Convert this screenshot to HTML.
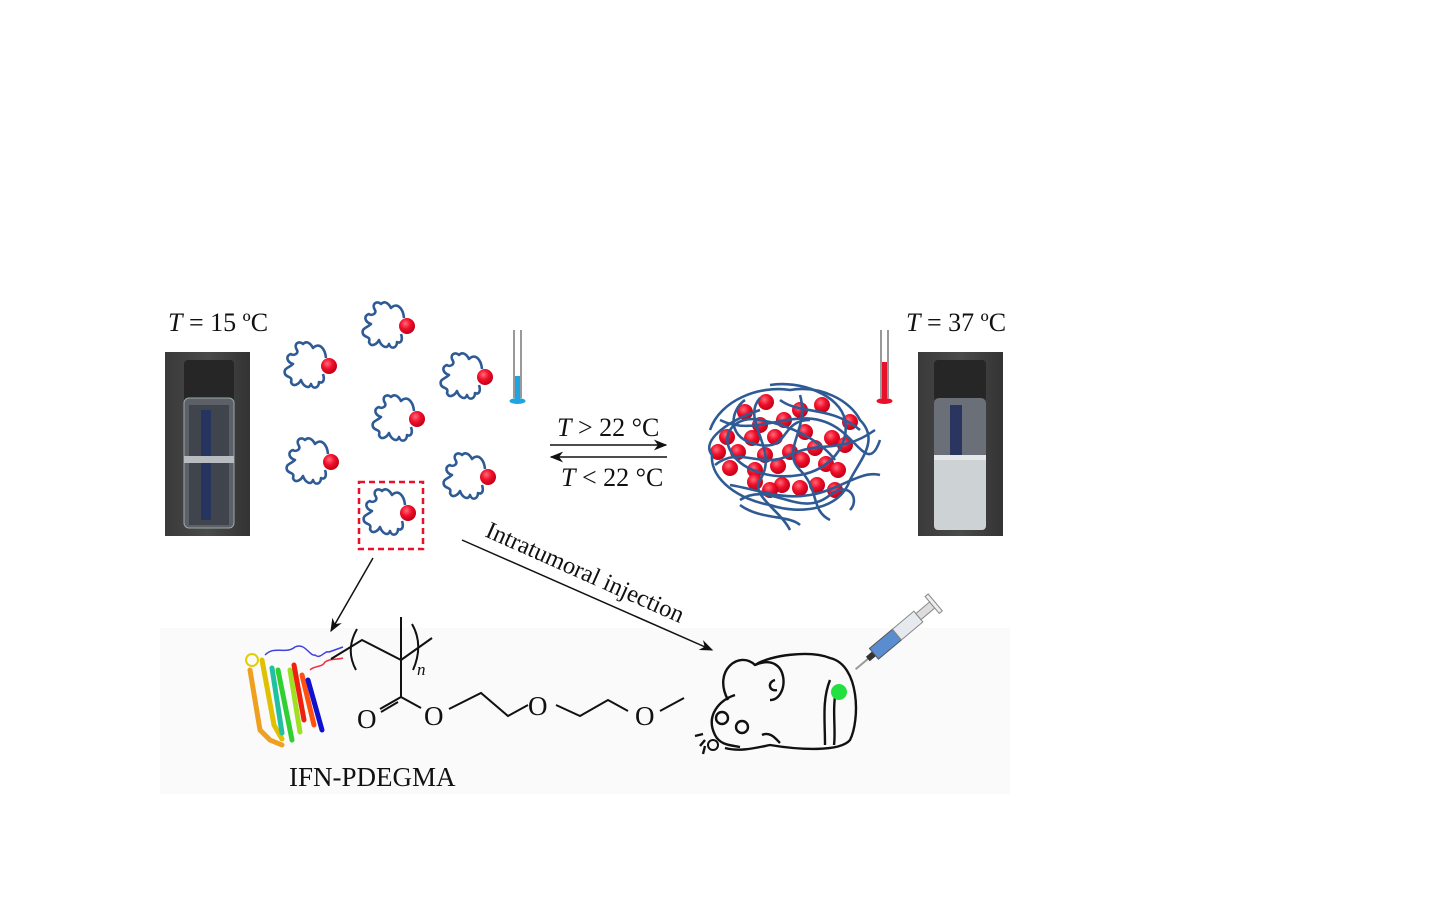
<!DOCTYPE html>
<html><head><meta charset="utf-8"><style>
html,body{margin:0;padding:0;background:#fff;width:1440px;height:900px;overflow:hidden}
svg{display:block}
text{font-family:"Liberation Serif",serif;fill:#111}
</style></head><body>
<svg width="1440" height="900" viewBox="0 0 1440 900" xmlns="http://www.w3.org/2000/svg">
<defs>
<radialGradient id="rb" cx="40%" cy="35%" r="65%"><stop offset="0" stop-color="#ff6a7a"/><stop offset=".5" stop-color="#f0102a"/><stop offset="1" stop-color="#c00018"/></radialGradient>
<linearGradient id="vialL" x1="0" x2="1"><stop offset="0" stop-color="#3a3a3a"/><stop offset=".5" stop-color="#4a4a4a"/><stop offset="1" stop-color="#333"/></linearGradient>
<g id="coil">
<path d="M-3,-8 C-4,-18 -10,-24 -16,-18 C-18,-22 -22,-26 -26,-22 C-30,-26 -36,-22 -32,-16 C-30,-12 -36,-10 -38,-12 C-44,-10 -42,-4 -36,-2 C-40,2 -46,2 -44,8 C-42,12 -36,10 -38,16 C-36,22 -30,18 -28,14 C-26,20 -20,24 -18,18 C-16,24 -10,22 -10,16 C-6,18 -4,14 -6,8" fill="none" stroke="#2f5b95" stroke-width="2.6" stroke-linejoin="round"/>
<circle cx="0" cy="0" r="8" fill="url(#rb)"/>
</g>
<marker id="ah" viewBox="0 0 10 10" refX="9" refY="5" markerWidth="9" markerHeight="9" orient="auto"><path d="M0,1 L10,5 L0,9 L3,5z" fill="#111"/></marker>
</defs>

<rect x="160" y="628" width="850" height="166" fill="#fafafa"/>

<text x="168" y="331" font-size="26"><tspan font-style="italic">T</tspan> = 15 ºC</text>
<rect x="165" y="352" width="85" height="184" fill="url(#vialL)"/>
<rect x="184" y="360" width="50" height="42" rx="4" fill="#262626"/>
<rect x="184" y="398" width="50" height="130" rx="5" fill="#5d6067" stroke="#9aa" stroke-width="1"/>
<rect x="189" y="405" width="40" height="120" fill="#40454d"/>
<rect x="201" y="410" width="10" height="110" fill="#253560"/>
<rect x="184" y="456" width="50" height="7" fill="#b8bcc0"/>

<text x="906" y="331" font-size="26"><tspan font-style="italic">T</tspan> = 37 ºC</text>
<rect x="918" y="352" width="85" height="184" fill="url(#vialL)"/>
<rect x="934" y="360" width="52" height="42" rx="4" fill="#262626"/>
<rect x="934" y="398" width="52" height="132" rx="5" fill="#6b7078"/>
<rect x="950" y="405" width="12" height="50" fill="#2a3560"/>
<rect x="934" y="455" width="52" height="75" rx="4" fill="#cdd2d4"/>
<rect x="934" y="455" width="52" height="5" fill="#e6e8e8"/>

<use href="#coil" x="329" y="366"/>
<use href="#coil" x="407" y="326"/>
<use href="#coil" x="485" y="377"/>
<use href="#coil" x="417" y="419"/>
<use href="#coil" x="331" y="462"/>
<use href="#coil" x="488" y="477"/>
<use href="#coil" x="408" y="513"/>
<rect x="359" y="482" width="64" height="67" fill="none" stroke="#e8102a" stroke-width="2.5" stroke-dasharray="6,4"/>

<g stroke="#333" stroke-width="1"><line x1="514" y1="330" x2="514" y2="398"/><line x1="521" y1="330" x2="521" y2="398"/></g>
<rect x="515" y="376" width="5" height="24" fill="#1ea5e0"/>
<ellipse cx="517.5" cy="401" rx="8" ry="3" fill="#1ea5e0"/>
<g stroke="#333" stroke-width="1"><line x1="881" y1="330" x2="881" y2="398"/><line x1="888" y1="330" x2="888" y2="398"/></g>
<rect x="882" y="362" width="5" height="38" fill="#e8102a"/>
<ellipse cx="884.5" cy="401" rx="8" ry="3" fill="#e8102a"/>

<text x="557" y="436" font-size="26"><tspan font-style="italic">T</tspan> &gt; 22 °C</text>
<line x1="550" y1="445" x2="666" y2="445" stroke="#111" stroke-width="1.5" marker-end="url(#ah)"/>
<line x1="667" y1="457" x2="551" y2="457" stroke="#111" stroke-width="1.5" marker-end="url(#ah)"/>
<text x="561" y="486" font-size="26"><tspan font-style="italic">T</tspan> &lt; 22 °C</text>

<g fill="url(#rb)">
<circle cx="766" cy="402" r="8"/><circle cx="745" cy="412" r="8"/><circle cx="800" cy="410" r="8"/><circle cx="822" cy="405" r="8"/><circle cx="784" cy="420" r="8"/><circle cx="760" cy="425" r="8"/><circle cx="850" cy="422" r="8"/><circle cx="727" cy="437" r="8"/><circle cx="752" cy="438" r="8"/><circle cx="775" cy="437" r="8"/><circle cx="805" cy="432" r="8"/><circle cx="832" cy="438" r="8"/><circle cx="718" cy="452" r="8"/><circle cx="738" cy="452" r="8"/><circle cx="765" cy="455" r="8"/><circle cx="790" cy="452" r="8"/><circle cx="815" cy="448" r="8"/><circle cx="845" cy="445" r="8"/><circle cx="730" cy="468" r="8"/><circle cx="755" cy="470" r="8"/><circle cx="778" cy="466" r="8"/><circle cx="802" cy="460" r="8"/><circle cx="826" cy="464" r="8"/><circle cx="838" cy="470" r="8"/><circle cx="755" cy="482" r="8"/><circle cx="782" cy="485" r="8"/><circle cx="800" cy="488" r="8"/><circle cx="817" cy="485" r="8"/><circle cx="835" cy="490" r="8"/><circle cx="770" cy="490" r="8"/>
</g>
<g fill="none" stroke="#2f5b95" stroke-width="2.6" stroke-linejoin="round">
<path d="M710,430 C720,400 760,385 790,390 C820,385 850,400 860,420 C880,440 860,460 850,480 C840,510 800,515 770,505 C740,500 710,480 712,455 C700,440 730,420 760,410"/>
<path d="M770,385 C800,380 840,395 845,420 C850,445 830,470 800,475 C770,480 740,470 730,450 C720,430 740,415 760,420 C790,425 820,440 835,460"/>
<path d="M720,420 C760,440 800,400 840,430 C860,445 870,470 880,440"/>
<path d="M740,500 C770,480 800,520 830,495 C850,480 860,500 850,510"/>
<path d="M760,398 C740,420 780,450 760,480 C750,495 780,510 790,530"/>
<path d="M800,395 C810,430 780,450 800,470 C820,490 810,510 830,520"/>
<path d="M715,465 C740,445 760,470 790,455 C820,440 840,455 875,430"/>
<path d="M780,400 C800,415 830,405 860,430"/>
<path d="M745,400 C730,410 725,440 760,445 C790,450 780,420 810,420"/>
<path d="M730,485 C760,490 780,500 810,495 C840,490 860,470 880,475"/>
<path d="M740,505 C760,520 790,515 800,525"/>
</g>

<line x1="373" y1="558" x2="331" y2="631" stroke="#111" stroke-width="1.5" marker-end="url(#ah)"/>
<line x1="462" y1="540" x2="712" y2="650" stroke="#111" stroke-width="1.5" marker-end="url(#ah)"/>
<text x="0" y="0" font-size="24.5" transform="translate(484,536) rotate(24)">Intratumoral injection</text>

<g fill="none" stroke-width="5" stroke-linecap="round">
<path d="M250,670 l10,60 l10,10 l12,5" stroke="#f0a020"/>
<path d="M262,660 l12,65 l8,14" stroke="#e0c000"/>
<path d="M272,668 l10,65" stroke="#20c0a0"/>
<path d="M278,670 l14,70" stroke="#30d030"/>
<path d="M290,670 l10,62" stroke="#a0e020"/>
<path d="M294,665 l10,55" stroke="#f02010"/>
<path d="M302,675 l12,50" stroke="#ff5010"/>
<path d="M308,680 l14,50" stroke="#1010d0"/>
</g>
<path d="M265,655 c10,-10 20,0 30,-8 c10,-5 15,10 20,8 c5,5 10,-5 14,-3 l14,-5" fill="none" stroke="#4040e0" stroke-width="1.5"/>
<path d="M310,670 c5,-5 12,-2 15,-8 c6,-4 12,-2 18,-4" fill="none" stroke="#f03040" stroke-width="1.5"/>
<circle cx="252" cy="660" r="6" fill="none" stroke="#e0d000" stroke-width="2"/>
<text x="289" y="786" font-size="27">IFN-PDEGMA</text>

<g fill="none" stroke="#111" stroke-width="2">
<path d="M331,659 L362,640 L401,660 L401,617"/>
<path d="M401,660 L432,638"/>
<path d="M357,629 Q345,650 356,670"/>
<path d="M412,624 Q424,645 413,670"/>
<path d="M401,660 L401,697"/>
<path d="M401,697 L380,709 M398,702 L381,712"/>
<path d="M401,697 L421,708"/>
<path d="M449,709 L481,693 L508,716 L528,705"/>
<path d="M556,705 L580,716 L608,700 L628,711"/>
<path d="M660,711 L684,698"/>
</g>
<text x="357" y="728" font-size="27">O</text>
<text x="424" y="725" font-size="27">O</text>
<text x="528" y="715" font-size="27">O</text>
<text x="635" y="725" font-size="27">O</text>
<text x="417" y="675" font-size="17" font-style="italic">n</text>

<g fill="none" stroke="#111" stroke-width="2.4" stroke-linejoin="round">
<path d="M728,700 C712,670 740,650 755,665 C770,655 810,650 830,658 C860,665 860,720 850,740 C840,752 800,750 770,745 C755,748 740,752 725,748"/>
<path d="M755,665 C790,650 790,700 770,700"/>
<path d="M775,680 c-8,2 -6,12 2,10"/>
<path d="M735,695 c-15,5 -30,20 -20,40 c5,10 15,10 25,12"/>
<circle cx="722" cy="718" r="6"/><circle cx="742" cy="727" r="6"/>
<path d="M830,680 c-8,20 -5,40 -5,65 M836,690 c-4,20 0,40 -2,55"/>
<path d="M762,735 c8,-4 14,4 18,8"/>
<path d="M705,740 l-5,6 m3,-12 l-8,2 m10,10 l-2,8"/>
</g>
<circle cx="713" cy="745" r="5" fill="none" stroke="#111" stroke-width="2"/>
<circle cx="839" cy="692" r="8" fill="#22e040"/>

<g transform="translate(900,632) rotate(-40)">
<line x1="-58" y1="0" x2="-40" y2="0" stroke="#999" stroke-width="2"/>
<rect x="-42" y="-3" width="8" height="6" fill="#333"/>
<rect x="-34" y="-7" width="30" height="14" fill="#5a8cd0" stroke="#555" stroke-width="1"/>
<rect x="-4" y="-7" width="28" height="14" fill="#e6eaee" stroke="#888" stroke-width="1"/>
<rect x="24" y="-4" width="18" height="8" fill="#ddd" stroke="#888" stroke-width="1"/>
<rect x="42" y="-11" width="4" height="22" fill="#eee" stroke="#888" stroke-width="1"/>
</g>
</svg>
</body></html>
